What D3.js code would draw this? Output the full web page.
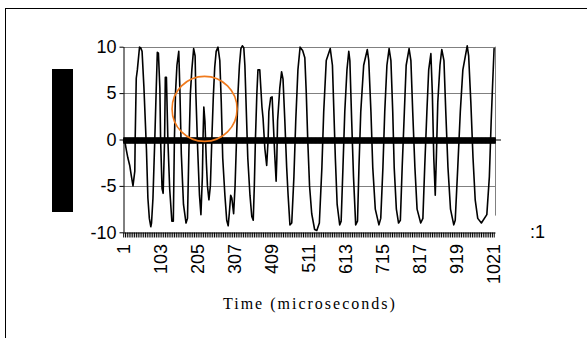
<!DOCTYPE html>
<html>
<head>
<meta charset="utf-8">
<script src="https://cdn.jsdelivr.net/npm/d3@7"></script>
<style>
  body { margin: 0; background: #fff; }
  svg { display: block; }
</style>
</head>
<body>
<svg id="chart"></svg>
<script>
const sample = [
  1, 6, 10, 14, 19, 23, 28, 33, 34, 37, 40, 46, 49, 53, 58, 65, 69, 73, 77, 79,
  83, 88, 92, 95, 98, 102, 104, 108, 111, 115, 117, 120, 124, 129, 135, 139, 142, 145, 149, 154,
  157, 161, 167, 174, 178, 182, 186, 190, 195, 199, 201, 206, 211, 215, 219, 221, 223, 226, 230, 233,
  237, 241, 245, 249, 253, 257, 262, 267, 271, 275, 281, 286, 290, 293, 297, 300, 305, 309, 313, 317,
  321, 325, 329, 333, 336, 340, 344, 350, 355, 359, 362, 365, 369, 372, 377, 380, 383, 386, 391, 396,
  400, 402, 407, 411, 414, 418, 422, 424, 426, 432, 437, 441, 446, 451, 455, 460, 465, 471, 476, 482,
  488, 495, 501, 505, 509, 514, 520, 528, 534, 541, 548, 553, 560, 571, 577, 581, 585, 590, 597, 601,
  606, 611, 617, 622, 625, 630, 635, 641, 646, 650, 655, 663, 673, 677, 683, 688, 695, 705, 710, 716,
  721, 727, 733, 738, 743, 747, 753, 759, 764, 769, 775, 780, 788, 793, 798, 804, 810, 820, 826, 831,
  837, 842, 848, 852, 856, 860, 863, 867, 873, 878, 884, 889, 895, 902, 911, 915, 922, 929, 936, 948,
  952, 958, 964, 970, 977, 987, 1002, 1009, 1014, 1018, 1022, 1024
];
const amplitude = [
  -0.1, -0.3, -1.2, -2.0, -2.8, -3.8, -5.0, -3.4, 0, 6.6, 7.5, 9.95, 9.9, 9.5, 5.7, -1.0, -6.3, -8.5, -9.4, -9.0,
  -6.3, 0, 5.5, 9.4, 9.3, 5.5, 0, -5.3, -5.8, 0, 6.7, 6.7, 0, -5.3, -8.8, -8.8, 0, 5, 8, 9.5,
  5.5, -1.5, -7, -9.0, -8.5, -1, 5, 7.5, 9.8, 9.0, 5.0, -1, -6, -8.1, -4, 0.5, 3.5, 2.0, -2.5, -5,
  -6.5, -5, 0, 4.5, 7.8, 9.5, 9.95, 8.5, 4, -2, -6, -8.7, -9.3, -8, -6.0, -6.3, -8.0, -5, 0, 5,
  8, 9.8, 10.1, 9.9, 8, 3, -2, -6, -8.3, -8.7, -5, 0, 5, 7.5, 7.5, 5.5, 3.5, 2.3, -1, -2.8,
  0, 3, 4.5, 4.6, 2, -1.5, -4.5, -2, 2, 5.5, 7.3, 6.5, 2, -3, -6, -9.2, -9.0, -4, 2, 7.5,
  9.95, 9.6, 8.8, 5, 0, -5, -8, -9.7, -9.8, -9, -3, 3, 8.5, 9.8, 8, 3, -2, -7, -9.2, -8.8,
  -3, 3, 7.5, 9.5, 8.5, 2, -4, -9.2, -8.8, -3, 3, 8, 9.7, 8.5, 3, -3, -7.5, -9.2, -8.5, -3,
  3, 8, 9.8, 8.5, 3, -3, -7.5, -9.0, -8.7, -3, 3, 8, 9.8, 8.5, 3, -3, -7.5, -9.0, -8.5, -3,
  3, 7.5, 9.25, 5, -2, -6.0, -2, 4, 8, 9.7, 8.5, 3, -3, -7.5, -9.2, -8.7, -3, 3, 7.5, 10.1,
  9, 4, -2, -6.5, -8.5, -9.0, -8.1, -4, 2, 6, 9.8, 9.8
];
const sampleCount = 1024;
const xTickLabels = [1, 103, 205, 307, 409, 511, 613, 715, 817, 919, 1021];
const yTickValues = [-10, -5, 0, 5, 10];
const gridValues = [-5, 5, 10];
const markedPoint = { sample: 225, value: 3.3 };

const width = 587;
const height = 338;

const x = d3.scaleLinear()
    .domain([0.5, sampleCount + 0.5])
    .range([123, 495]);

const y = d3.scaleLinear()
    .domain([-10, 10])
    .range([232.3, 46.7]);

const svg = d3.select("#chart")
    .attr("width", width)
    .attr("height", height)
    .attr("viewBox", [0, 0, width, height]);

// outer chart frame (runs off the right and bottom)
svg.append("rect")
    .attr("x", 5.5).attr("y", 8.5)
    .attr("width", 620).attr("height", 360)
    .attr("fill", "none")
    .attr("stroke", "#000")
    .attr("stroke-width", 1);

// covered y-axis title
svg.append("rect")
    .attr("x", 52).attr("y", 69)
    .attr("width", 21).attr("height", 143)
    .attr("fill", "#000");

// gridlines
svg.append("g")
    .selectAll("line")
    .data(gridValues)
    .join("line")
    .attr("x1", x.range()[0]).attr("x2", x.range()[1])
    .attr("y1", d => Math.round(y(d)) + 0.5).attr("y2", d => Math.round(y(d)) + 0.5)
    .attr("stroke", "#808080")
    .attr("stroke-width", 1);

// right edge of the plot area
svg.append("line")
    .attr("x1", x.range()[1] + 0.5).attr("x2", x.range()[1] + 0.5)
    .attr("y1", y(10)).attr("y2", y(-8.2))
    .attr("stroke", "#808080");

// y axis
const yAxis = g => g
    .attr("transform", `translate(${x.range()[0] + 0.5},0)`)
    .call(d3.axisLeft(y).tickValues(yTickValues).tickSize(4).tickSizeOuter(0).tickPadding(3)
        .tickFormat(d => String(d)))
    .call(g => g.select(".domain").attr("stroke", "#000"))
    .call(g => g.selectAll(".tick line").attr("stroke", "#000"))
    .call(g => g.selectAll(".tick text")
        .attr("font-family", "Liberation Sans, Arial, sans-serif")
        .attr("font-size", 18)
        .attr("fill", "#000"));

svg.append("g").call(yAxis);

const everySample = d3.range(1, sampleCount + 1);

// x axis at the bottom: dense tick marks plus rotated labels
const xAxisBottom = g => g
    .attr("transform", `translate(0,${Math.round(y(-10)) + 0.5})`)
    .call(d3.axisBottom(x).tickValues(everySample.filter(d => d % 5 === 1)).tickSize(5).tickSizeOuter(0).tickFormat(""))
    .call(g => g.select(".domain").attr("stroke", "#000"))
    .call(g => g.selectAll(".tick line").attr("stroke", "#000").attr("stroke-width", 1));

svg.append("g").call(xAxisBottom);

svg.append("g")
    .selectAll("text")
    .data(xTickLabels)
    .join("text")
    .attr("transform", d => `translate(${x(d) + 6.5},244) rotate(-90)`)
    .attr("text-anchor", "end")
    .attr("font-family", "Liberation Sans, Arial, sans-serif")
    .attr("font-size", 18)
    .attr("fill", "#000")
    .text(d => d);

// zero line with crossing tick marks
svg.append("line")
    .attr("x1", x.range()[0]).attr("x2", 501)
    .attr("y1", y(0) + 0.5).attr("y2", y(0) + 0.5)
    .attr("stroke", "#000");

svg.append("g")
    .attr("transform", `translate(0,${y(0) - 2})`)
    .call(d3.axisBottom(x).tickValues(everySample).tickSize(6).tickSizeOuter(0).tickFormat(""))
    .call(g => g.select(".domain").remove())
    .call(g => g.selectAll(".tick line").attr("stroke", "#000").attr("stroke-width", 1));

// waveform
const points = sample.map((s, i) => ({ s, v: amplitude[i] }));

const line = d3.line()
    .x(d => x(d.s))
    .y(d => y(d.v));

svg.append("path")
    .datum(points)
    .attr("fill", "none")
    .attr("stroke", "#000")
    .attr("stroke-width", 1.6)
    .attr("stroke-linejoin", "round")
    .attr("d", line);

// highlight circle
svg.append("circle")
    .attr("cx", x(markedPoint.sample))
    .attr("cy", y(markedPoint.value))
    .attr("r", 32.5)
    .attr("fill", "none")
    .attr("stroke", "#f07a1c")
    .attr("stroke-width", 1.6);

// x axis title
svg.append("text")
    .attr("x", 223)
    .attr("y", 309)
    .attr("font-family", "Liberation Serif, Times New Roman, serif")
    .attr("font-size", 16)
    .attr("letter-spacing", 2)
    .attr("fill", "#000")
    .text("Time (microseconds)");

// clipped legend remnant
svg.append("text")
    .attr("x", 530)
    .attr("y", 238)
    .attr("font-family", "Liberation Sans, Arial, sans-serif")
    .attr("font-size", 18)
    .attr("fill", "#000")
    .text(":1");
</script>
</body>
</html>
